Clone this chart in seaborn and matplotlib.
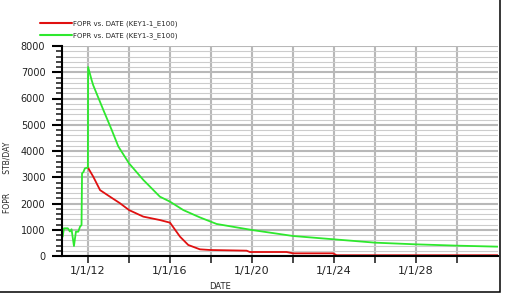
import pandas as pd
import numpy as np
import seaborn as sns
import matplotlib.pyplot as plt
import matplotlib.dates as mdates
from matplotlib.ticker import MultipleLocator, FuncFormatter
from matplotlib.patches import Rectangle

# KEY1-3_E100 (green) - includes history before 2012
green_dates = ['2010-10-07', '2010-10-30', '2011-01-07', '2011-02-13', '2011-03-14',
               '2011-04-26', '2011-05-31', '2011-07-12', '2011-08-12', '2011-09-08',
               '2011-09-17', '2011-10-12', '2011-11-07', '2011-12-30', '2012-01-03',
               '2012-03-06', '2012-04-04', '2012-10-01', '2013-02-27', '2013-06-25',
               '2014-01-01', '2014-09-12', '2015-07-05', '2016-01-01', '2016-08-25',
               '2017-06-17', '2018-04-11', '2020-01-01', '2022-01-01', '2024-01-01',
               '2026-01-01', '2028-01-01', '2030-01-01', '2031-12-25']
green_vals = [735, 1055, 1055, 933, 1017,
              380, 926, 926, 1117, 1180,
              3150, 3200, 3340, 3370, 7200,
              6700, 6500, 5560, 4800, 4170,
              3530, 2900, 2260, 2070, 1750,
              1470, 1220, 990, 762, 635,
              508, 444, 394, 356]

# KEY1-1_E100 (red) - prediction from 2012
red_dates = ['2012-01-01', '2012-01-24', '2012-04-04', '2012-08-03', '2013-01-26',
             '2013-07-24', '2014-01-01', '2014-09-12', '2015-07-05', '2016-01-01',
             '2016-06-28', '2016-11-21', '2017-06-17', '2017-12-13', '2019-09-27',
             '2019-11-23', '2021-09-08', '2022-01-01', '2023-12-13', '2024-02-17',
             '2031-12-25']
red_vals = [3370, 3280, 3020, 2510, 2260,
            2010, 1750, 1500, 1370, 1270,
            735, 420, 254, 229, 203,
            152, 152, 102, 102, 30,
            30]

labels = ['FOPR vs. DATE (KEY1-1_E100)', 'FOPR vs. DATE (KEY1-3_E100)']
colors = ['#e01010', '#2ee82e']

df = pd.concat([
    pd.DataFrame({'DATE': pd.to_datetime(red_dates), 'FOPR': red_vals, 'Case': labels[0]}),
    pd.DataFrame({'DATE': pd.to_datetime(green_dates), 'FOPR': green_vals, 'Case': labels[1]}),
])

sns.set_style('white')
plt.rcParams['font.family'] = ['DejaVu Sans']

fig = plt.figure(figsize=(5.09, 2.98), dpi=100)
ax = fig.add_axes([62/509, 1-256/298, 436/509, 210/298])

sns.lineplot(data=df, x='DATE', y='FOPR', hue='Case', palette=colors,
             hue_order=labels, linewidth=1.3, ax=ax, legend=False, sort=False)

ax.set_ylim(0, 8000)
ax.set_xlim(pd.Timestamp('2010-09-25'), pd.Timestamp('2031-12-31'))

ax.yaxis.set_major_locator(MultipleLocator(1000))
ax.yaxis.set_minor_locator(MultipleLocator(200))
ax.xaxis.set_major_locator(mdates.YearLocator(2))


def date_fmt(x, pos):
    d = mdates.num2date(x)
    return f'1/1/{d.year % 100:02d}' if d.year % 4 == 0 else ''


ax.xaxis.set_major_formatter(FuncFormatter(date_fmt))

ax.grid(which='major', axis='both', color='#b8b8b8', linewidth=1.5)
ax.grid(which='minor', axis='y', color='#cccccc', linewidth=0.8)
ax.set_axisbelow(True)

for s in ['top', 'right']:
    ax.spines[s].set_visible(False)
for s in ['left', 'bottom']:
    ax.spines[s].set_color('black')
    ax.spines[s].set_linewidth(1.5)

ax.tick_params(axis='y', which='major', direction='out', length=7, width=1.5,
               labelsize=7, pad=5, left=True, colors='black', labelcolor='#222222')
ax.tick_params(axis='y', which='minor', direction='out', length=4, width=1.2, left=True)
ax.tick_params(axis='x', which='major', direction='out', length=5, width=1.2,
               labelsize=8, pad=2, bottom=True, labelcolor='#222222')

ax.set_xlabel('DATE', fontsize=6)
ax.xaxis.set_label_coords(0.362, -0.125)
ax.set_ylabel('FOPR        STB/DAY', fontsize=5.5)
ax.yaxis.set_label_coords(-0.115, 0.376)

handles = [plt.Line2D([], [], color=c, linewidth=1.5) for c in colors]
fig.legend(handles, labels, loc='upper left', bbox_to_anchor=(40/509, 1-20/298),
           frameon=False, fontsize=5, handlelength=4.6, handletextpad=0.1,
           labelspacing=0.75, borderpad=0, borderaxespad=0)

# outer frame: only right and bottom edges fall inside the picture
fig.patches.append(Rectangle((-0.01, 1-292/298), 500/509 + 0.01, 292/298 + 0.01,
                             transform=fig.transFigure,
                             fill=False, edgecolor='black', linewidth=1.1))

fig.savefig('out.png', dpi=100)
